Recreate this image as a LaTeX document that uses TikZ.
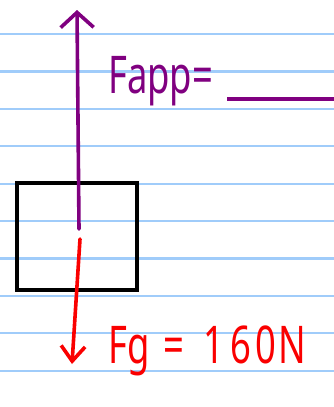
\documentclass[tikz,border=0pt]{standalone}
\usepackage{graphicx,xcolor,fontspec}
\setmainfont{Noto Sans}
\usetikzlibrary{arrows.meta}
\definecolor{ruleblue}{RGB}{160,204,250}
\definecolor{penpurple}{RGB}{128,0,128}
\definecolor{penred}{RGB}{250,0,0}
\newcommand{\hand}[1]{\scalebox{0.7}[1]{\fontsize{52}{60}\selectfont #1}}

\begin{document}
\begin{tikzpicture}[x=1pt,y=-1pt,
            ruling/.style={ruleblue,line width=2.2pt},
            block/.style={draw=black,line width=3.6pt,minimum width=120pt,minimum height=107pt,inner sep=0pt},
            forceup/.style={penpurple,line width=3.6pt,line cap=round,-{Straight Barb[length=15pt,width=33pt,line width=3.6pt]}},
            forcedown/.style={penred,line width=3.6pt,line cap=round,-{Straight Barb[length=15pt,width=24pt,line width=3.6pt]}},
            label/.style={inner sep=0pt,anchor=base west}]
            \useasboundingbox[fill=white] (0,0) rectangle (334,407);
            \foreach \k in {0,...,9}
                \draw[ruling] (0,{34+37.4*\k}) -- (334,{34+37.4*\k});
            \node[block] (box) at (77,236.5) {};
            \coordinate (upstart) at (79,229);
            \coordinate (uptip) at (77,10);
            \coordinate (downstart) at (80,239);
            \coordinate (downtip) at (72,364);
            \draw[forceup] (upstart) -- (uptip);
            \draw[forcedown] (downstart) -- (downtip);
            \node[label,text=penpurple] (fapp) at (108,93) {\hand{Fapp=}};
            \coordinate (blankend) at (334,99);
            \draw[penpurple,line width=3.6pt] (227,99) -- (blankend);
            \node[label,text=penred] (fg) at (108,363) {\hand{Fg\kern20pt=\kern28pt1\kern8pt6\kern6pt0\kern4pt N}};
        \end{tikzpicture}
\end{document}
